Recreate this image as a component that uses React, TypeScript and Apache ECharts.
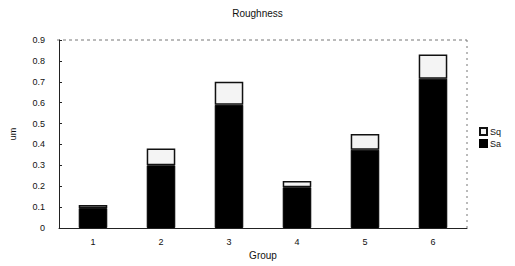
import React, { useEffect, useRef } from "react";
import * as echarts from "echarts";

const categories = ["1", "2", "3", "4", "5", "6"];
const saValues = [0.095, 0.3, 0.59, 0.195, 0.375, 0.715];
const sqValues = [0.015, 0.08, 0.11, 0.03, 0.075, 0.115];
const yTicks = [0, 0.1, 0.2, 0.3, 0.4, 0.5, 0.6, 0.7, 0.8, 0.9];

export default function App() {
  const ref = useRef<HTMLDivElement>(null);
  useEffect(() => {
    if (!ref.current) return;
    const chart = echarts.init(ref.current, null, { renderer: "svg" });
    const font = "Liberation Sans, Arial, sans-serif";
    chart.setOption({
      animation: false,
      backgroundColor: "#ffffff",
      title: {
        text: "Roughness",
        left: "center",
        top: 3,
        textStyle: { fontSize: 10, fontWeight: "normal", color: "#111", fontFamily: font },
      },
      legend: {
        orient: "vertical",
        left: 474,
        top: 122,
        itemWidth: 7,
        itemHeight: 7,
        itemGap: 3,
        icon: "rect",
        data: ["Sq", "Sa"],
        textStyle: { fontSize: 9, color: "#111", fontFamily: font, padding: [0, 0, 0, -2] },
      },
      grid: { left: 57, right: 48, top: 40, bottom: 38, show: false },
      xAxis: {
        type: "category",
        data: categories,
        name: "Group",
        nameLocation: "middle",
        nameGap: 22,
        nameTextStyle: { fontSize: 10, color: "#111", fontFamily: font },
        axisLine: { show: true, lineStyle: { color: "#222", width: 1 } },
        axisTick: { show: false },
        axisLabel: { fontSize: 9, color: "#111", fontFamily: font, margin: 9 },
      },
      yAxis: {
        type: "value",
        min: 0,
        max: 0.9,
        interval: 0.1,
        name: "um",
        nameLocation: "middle",
        nameGap: 42,
        nameTextStyle: { fontSize: 9, color: "#111", fontFamily: font },
        axisLine: { show: true, lineStyle: { color: "#222", width: 1 } },
        axisTick: { show: true, inside: true, length: 3, lineStyle: { color: "#222" } },
        splitLine: { show: false },
        axisLabel: {
          fontSize: 9,
          color: "#111",
          fontFamily: font,
          margin: 14,
          formatter: (v: number) => {
            const t = yTicks.find((x) => Math.abs(x - v) < 1e-6);
            return t === undefined ? "" : t === 0 ? "0" : t.toFixed(1);
          },
        },
      },
      graphic: [
        {
          type: "line",
          shape: { x1: 57, y1: 40, x2: 467, y2: 40 },
          style: { stroke: "#777", lineWidth: 1, lineDash: [3, 3] },
        },
        {
          type: "line",
          shape: { x1: 467, y1: 40, x2: 467, y2: 228 },
          style: { stroke: "#777", lineWidth: 1, lineDash: [2, 4] },
        },
      ],
      series: [
        {
          name: "Sa",
          type: "bar",
          stack: "r",
          data: saValues,
          barWidth: "42%",
          itemStyle: { color: "#000", borderColor: "#000", borderWidth: 1 },
        },
        {
          name: "Sq",
          type: "bar",
          stack: "r",
          data: sqValues,
          barWidth: "42%",
          itemStyle: { color: "#f4f4f4", borderColor: "#111", borderWidth: 1.5 },
        },
      ],
    });
    return () => chart.dispose();
  }, []);
  return (
    <div
      ref={ref}
      style={{ position: "fixed", left: 0, top: 0, width: 515, height: 266 }}
    />
  );
}
